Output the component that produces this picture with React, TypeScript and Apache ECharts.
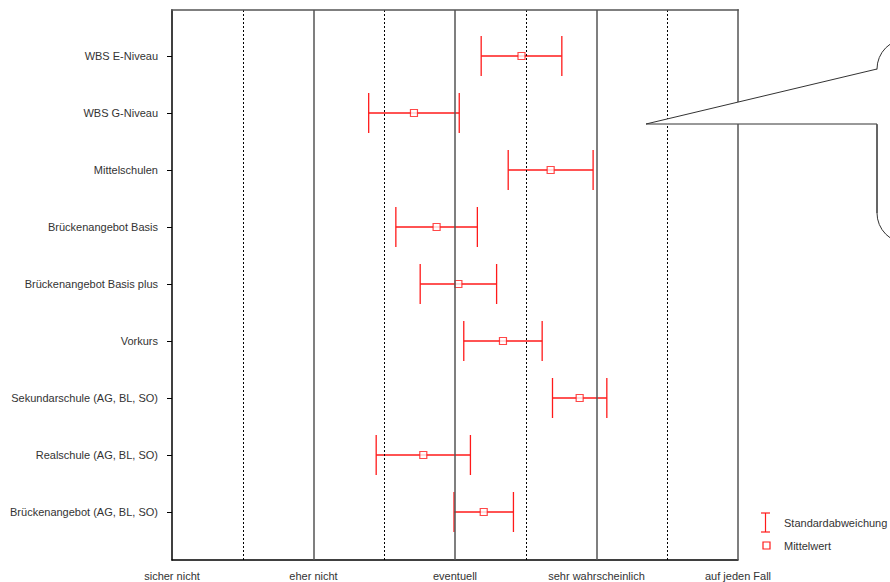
import React, { useEffect, useRef } from "react";
import * as echarts from "echarts";

const categories = [
  "WBS E-Niveau",
  "WBS G-Niveau",
  "Mittelschulen",
  "Brückenangebot Basis",
  "Brückenangebot Basis plus",
  "Vorkurs",
  "Sekundarschule (AG, BL, SO)",
  "Realschule (AG, BL, SO)",
  "Brückenangebot (AG, BL, SO)",
];
const means = [3.47, 2.71, 3.676, 2.87, 3.024, 3.339, 3.881, 2.776, 3.203];
const sds = [0.285, 0.32, 0.3, 0.288, 0.27, 0.277, 0.192, 0.333, 0.21];
const xTickLabels = ["sicher nicht", "eher nicht", "eventuell", "sehr wahrscheinlich", "auf jeden Fall"];
const halfSteps = [1.5, 2.5, 3.5, 4.5];
const wholeSteps = [2, 3, 4];
const legendNames = ["Standardabweichung", "Mittelwert"];

const RED = "#ff1a1a";
const FONT = "'Liberation Sans', Arial, sans-serif";
const BORDER = "#555";

export default function App() {
  const ref = useRef<HTMLDivElement>(null);
  useEffect(() => {
    if (!ref.current) return;
    const chart = echarts.init(ref.current, undefined, { renderer: "svg" });
    const rows = categories.map((_, i) => i + 1);
    const option: any = {
      animation: false,
      backgroundColor: "#fff",
      grid: {
        left: 172,
        right: 152,
        top: 10,
        bottom: 22,
        show: false,
      },
      xAxis: {
        type: "value",
        min: 1,
        max: 5,
        interval: 1,
        axisLine: { show: true, lineStyle: { color: "#000", width: 1.5 } },
        axisTick: { show: false },
        axisLabel: {
          color: "#333",
          fontSize: 11,
          fontFamily: FONT,
          margin: 10,
          showMinLabel: true,
          showMaxLabel: true,
          formatter: (v: number) => xTickLabels[Math.round(v) - 1] ?? "",
        },
        splitLine: { show: false },
      },
      yAxis: {
        type: "value",
        inverse: true,
        min: 0.193,
        max: 9.842,
        axisLine: { show: true, lineStyle: { color: "#000", width: 1.5 } },
        axisTick: {
          show: true,
          length: 5,
          customValues: rows,
          lineStyle: { color: "#000", width: 1 },
        },
        axisLabel: {
          customValues: rows,
          color: "#333",
          fontSize: 11,
          fontFamily: FONT,
          margin: 14,
          formatter: (v: number) => categories[Math.round(v) - 1] ?? "",
        },
        splitLine: { show: false },
      },
      series: [
        {
          type: "scatter",
          data: [[1, 1]],
          symbolSize: 0,
          silent: true,
          z: 1,
          markLine: {
            silent: true,
            symbol: "none",
            label: { show: false },
            lineStyle: { color: "#000", width: 1, type: [2, 2] },
            data: [
              ...halfSteps.map((x) => ({ xAxis: x })),
              ...wholeSteps.map((x) => ({
                xAxis: x,
                lineStyle: { color: BORDER, width: 1.5, type: "solid" },
              })),
            ],
          },
        },
        {
          type: "custom",
          name: legendNames[0],
          z: 3,
          data: means.map((m, i) => [m - sds[i], m + sds[i], i + 1]),
          renderItem: (params: any, api: any) => {
            const lo = api.coord([api.value(0), api.value(2)]);
            const hi = api.coord([api.value(1), api.value(2)]);
            const h = 20;
            const style = { stroke: RED, lineWidth: 1.3 };
            return {
              type: "group",
              children: [
                { type: "line", shape: { x1: lo[0], y1: lo[1], x2: hi[0], y2: hi[1] }, style },
                { type: "line", shape: { x1: lo[0], y1: lo[1] - h, x2: lo[0], y2: lo[1] + h }, style },
                { type: "line", shape: { x1: hi[0], y1: hi[1] - h, x2: hi[0], y2: hi[1] + h }, style },
              ],
            };
          },
        },
        {
          type: "scatter",
          name: legendNames[1],
          z: 4,
          symbol: "rect",
          symbolSize: 7,
          itemStyle: { color: "#fff", borderColor: RED, borderWidth: 1.2 },
          data: means.map((m, i) => [m, i + 1]),
        },
      ],
      graphic: {
        elements: [
          // plot frame (top and right), right side interrupted by the bubble pointer
          { type: "line", z: 50, shape: { x1: 171, y1: 10, x2: 738.75, y2: 10 }, style: { stroke: BORDER, lineWidth: 1.5 } },
          { type: "line", z: 50, shape: { x1: 738, y1: 9.25, x2: 738, y2: 102 }, style: { stroke: BORDER, lineWidth: 1.5 } },
          { type: "line", z: 50, shape: { x1: 738, y1: 124, x2: 738, y2: 560 }, style: { stroke: BORDER, lineWidth: 1.5 } },
          {
            type: "rect",
            z: 100,
            shape: { x: 877, y: 39, width: 100, height: 204, r: 30 },
            style: { fill: "#fff", stroke: "#333", lineWidth: 1 },
          },
          {
            type: "polygon",
            z: 101,
            shape: { points: [[646, 124], [879, 69], [879, 124.5]] },
            style: { fill: "#ffffff", lineWidth: 0 },
          },
          {
            type: "polyline",
            z: 102,
            shape: { points: [[877, 69], [646, 124], [877, 124], [877, 213]] },
            style: { fill: null, stroke: "#333", lineWidth: 1 },
          },
          { type: "line", z: 102, shape: { x1: 765.5, y1: 513, x2: 765.5, y2: 532 }, style: { stroke: RED, lineWidth: 1.2 } },
          { type: "line", z: 102, shape: { x1: 761, y1: 513, x2: 770, y2: 513 }, style: { stroke: RED, lineWidth: 1.2 } },
          { type: "line", z: 102, shape: { x1: 761, y1: 532, x2: 770, y2: 532 }, style: { stroke: RED, lineWidth: 1.2 } },
          {
            type: "text",
            z: 102,
            x: 784,
            y: 523,
            style: { text: legendNames[0], fill: "#333", fontSize: 11, fontFamily: FONT, textVerticalAlign: "middle" },
          },
          {
            type: "rect",
            z: 102,
            shape: { x: 763, y: 542, width: 7, height: 7 },
            style: { fill: "#fff", stroke: RED, lineWidth: 1.2 },
          },
          {
            type: "text",
            z: 102,
            x: 784,
            y: 546,
            style: { text: legendNames[1], fill: "#333", fontSize: 11, fontFamily: FONT, textVerticalAlign: "middle" },
          },
        ],
      },
    };
    chart.setOption(option);
    return () => chart.dispose();
  }, []);
  return (
    <div
      ref={ref}
      style={{ position: "fixed", left: 0, top: 0, width: 890, height: 582, background: "#fff" }}
    />
  );
}
